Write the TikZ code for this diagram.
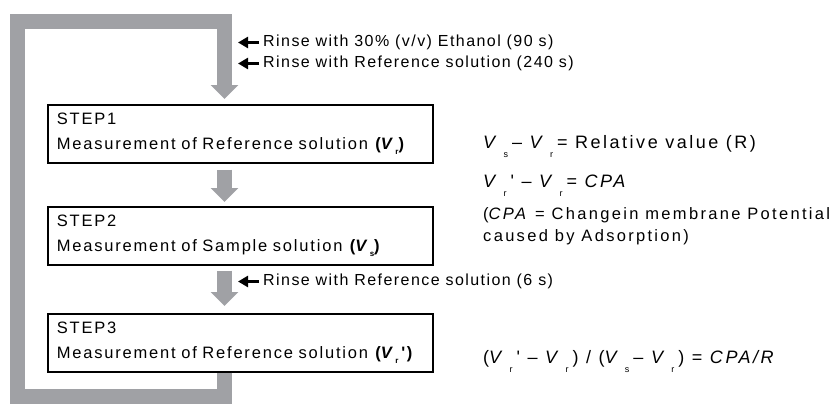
\documentclass[tikz,border=0pt]{standalone}
\usepackage{fontspec}
\setmainfont{Liberation Sans}
\newfontfamily\notefont{Liberation Sans}[LetterSpace=9]
\newfontfamily\boxfont{Liberation Sans}[LetterSpace=11]
\newfontfamily\eqfont{Liberation Sans}[LetterSpace=14]
\usetikzlibrary{positioning,arrows.meta}
\definecolor{loopgray}{RGB}{160,161,165}
% V with a low subscript (equations / boxes)
\newcommand{\Vx}[1]{\textit{V}\kern4.5pt\raisebox{-0.5em}{\fontsize{9}{9}\selectfont #1}\kern4pt}
\newcommand{\Vb}[1]{\textit{V}\kern0.5pt\raisebox{-0.35em}{\fontsize{8}{8}\selectfont #1}}

\begin{document}
\begin{tikzpicture}[
    x=1pt, y=-1pt,
    stepbox/.style={rectangle, draw, line width=1.6pt, anchor=north west, minimum width=385pt, minimum height=58pt, text width=367pt, align=left, inner xsep=9pt, font=\boxfont\fontsize{16.5}{25}\selectfont},
    fat/.style={draw=loopgray, line width=15pt, line join=miter, -{Triangle[width=27pt,length=14pt]}},
    note/.style={anchor=west, inner sep=3pt, font=\notefont\fontsize{16}{17}\selectfont},
    eq/.style={anchor=base west, inner sep=0pt, font=\eqfont\fontsize{18}{22}\selectfont},
    small/.style={-{Triangle[width=11pt,length=10pt]}, line width=3pt}
]
\useasboundingbox (0,0) rectangle (834,404);
\coordinate (ax) at (224.5,0);
\coordinate (tx) at (238,0);

% measurement steps
\node[stepbox] (b1) at (47,104) {STEP1\\Measurement of Reference solution \textbf{(\Vb{r})}};
\node[stepbox] (b2) at (47,206) {STEP2\\Measurement of Sample solution \textbf{(\Vb{s})}};
\node[stepbox] (b3) at (47,313) {STEP3\\Measurement of Reference solution \textbf{(\Vb{r}\,')}};

% gray flow
\draw[fat, shorten >=5pt] (b3.south -| ax) |- (17,396) |- (224.5,21.5) -- (b1.north -| ax);
\draw[fat, shorten <=6pt, shorten >=4pt] (b1.south -| ax) -- (b2.north -| ax);
\draw[fat, shorten <=5pt, shorten >=7pt] (b2.south -| ax) -- (b3.north -| ax);

% rinsing
\node[note] (r1) at (260,42.5) {Rinse with 30\% (v/v) Ethanol (90 s)};
\node[note] (r2) at (260,63.5) {Rinse with Reference solution (240 s)};
\node[note] (r3) at (260,281.5) {Rinse with Reference solution (6 s)};
\draw[small, shorten <=1pt] (r1.west) -- (r1.west -| tx);
\draw[small, shorten <=1pt] (r2.west) -- (r2.west -| tx);
\draw[small, shorten <=1pt] (r3.west) -- (r3.west -| tx);

% equations
\node[eq] (e1) at (483,148) {\Vx{s} \textendash\ \Vx{r} = Relative value (R)};
\node[eq] (e2) at (483,187) {\Vx{r}' \textendash\ \Vx{r} = \textit{CPA}};
\node[eq, font=\eqfont\fontsize{16.5}{22}\selectfont, align=left] (e3) at (483,241) {(\textit{CPA} = Changein membrane Potential\\caused by Adsorption)};
\node[eq] (e4) at (483,363) {(\Vx{r}' \textendash\ \Vx{r}) / (\Vx{s} \textendash\ \Vx{r}) = \textit{CPA/R}};
\end{tikzpicture}
\end{document}
